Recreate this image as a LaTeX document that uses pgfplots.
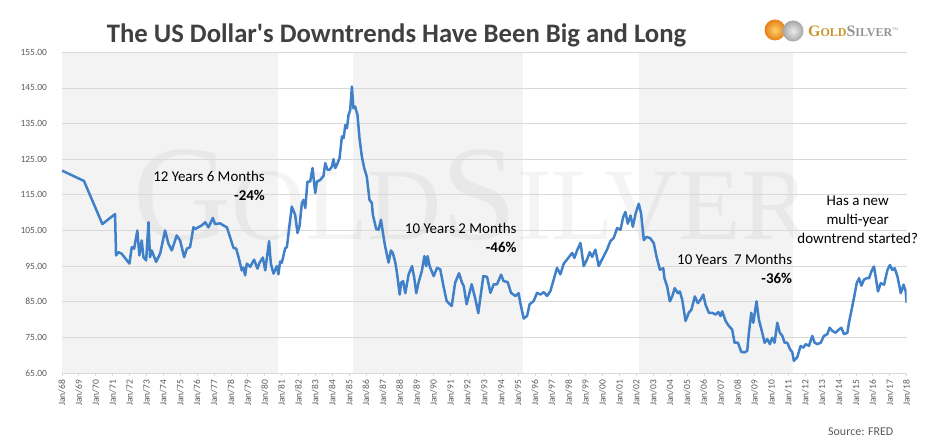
\documentclass[border=0pt]{standalone}
\usepackage{pgfplots}
\pgfplotsset{compat=1.18}
\usepackage{fontspec}
\setmainfont{Carlito}
\newfontfamily\wmfont{Liberation Serif}

\definecolor{usdblue}{HTML}{4080C8}
\definecolor{bandgrey}{HTML}{F3F3F3}
\definecolor{gridgrey}{HTML}{D9D9D9}
\definecolor{labgrey}{HTML}{595959}
\definecolor{titlegrey}{HTML}{404040}
\definecolor{goldtxt}{HTML}{C9962B}
\definecolor{silvtxt}{HTML}{929292}

\begin{document}
\begin{tikzpicture}
\path (0,0) rectangle (934bp,447bp);

% shaded downtrend periods and watermark behind the plot
\fill[bandgrey] (62bp,74bp) rectangle (277.7bp,394.7bp);
\fill[bandgrey] (352.7bp,74bp) rectangle (523.3bp,394.7bp);
\fill[bandgrey] (639bp,74bp) rectangle (793.3bp,394.7bp);
\node[anchor=base west, inner sep=0, text=black, text opacity=0.045] at (133bp,207bp)
  {\wmfont\fontsize{136}{136}\selectfont G\fontsize{103}{103}\selectfont OLD%
   \fontsize{136}{136}\selectfont S\fontsize{103}{103}\selectfont ILVER};

\begin{axis}[
    at={(62bp,74bp)}, anchor=south west,
    scale only axis, width=844.7bp, height=320.7bp,
    xmin=1968, xmax=2018, ymin=65, ymax=155,
    axis lines*=left,
    x axis line style={color=gridgrey, line width=0.8bp},
    y axis line style={draw=none},
    ymajorgrids, grid style={color=gridgrey, line width=0.8bp},
    ytick={65,75,...,155},
    xtick={1968,1969,...,2018},
    xticklabels={Jan/68,Jan/69,Jan/70,Jan/71,Jan/72,Jan/73,Jan/74,Jan/75,Jan/76,Jan/77,
      Jan/78,Jan/79,Jan/80,Jan/81,Jan/82,Jan/83,Jan/84,Jan/85,Jan/86,Jan/87,Jan/88,Jan/89,
      Jan/90,Jan/91,Jan/92,Jan/93,Jan/94,Jan/95,Jan/96,Jan/97,Jan/98,Jan/99,Jan/00,Jan/01,
      Jan/02,Jan/03,Jan/04,Jan/05,Jan/06,Jan/07,Jan/08,Jan/09,Jan/10,Jan/11,Jan/12,Jan/13,
      Jan/14,Jan/15,Jan/16,Jan/17,Jan/18},
    tick align=outside,
    xtick pos=bottom,
    major tick length=3.5bp,
    x tick style={color=gridgrey, line width=0.8bp},
    y tick style={draw=none},
    xticklabel style={rotate=90, anchor=east, font=\fontsize{9.5}{11}\selectfont, text=labgrey},
    yticklabel style={font=\fontsize{9.5}{11}\selectfont, text=labgrey, xshift=-8bp,
      /pgf/number format/fixed, /pgf/number format/fixed zerofill,
      /pgf/number format/precision=2, /pgf/number format/assume math mode=true},
  ]

% US dollar index, monthly
\addplot[color=usdblue, line width=2.5bp, line join=round] coordinates {
(1968.00,121.8) (1969.30,118.9) (1970.39,106.8) (1971.14,109.6) (1971.20,98.0)
(1971.34,98.9) (1971.53,98.5) (1971.99,95.7) (1972.13,100.3) (1972.27,99.9)
(1972.46,105.0) (1972.58,98.0) (1972.72,102.2) (1972.82,97.5) (1972.98,96.6)
(1973.12,107.3) (1973.21,97.5) (1973.31,99.4) (1973.57,96.2) (1973.81,98.5)
(1974.10,105.0) (1974.30,101.3) (1974.50,99.4) (1974.79,103.6) (1974.99,102.2)
(1975.23,97.5) (1975.39,99.9) (1975.58,100.3) (1975.78,105.9) (1975.88,105.4)
(1976.07,105.9) (1976.27,106.4) (1976.47,107.3) (1976.67,105.9) (1976.93,108.5)
(1977.06,106.8) (1977.36,107.0) (1977.56,106.4) (1977.76,105.9) (1977.95,103.1)
(1978.15,100.1) (1978.31,99.9) (1978.45,97.5) (1978.64,93.8) (1978.74,94.6)
(1978.84,92.4) (1978.94,95.7) (1979.14,94.8) (1979.37,96.8) (1979.57,94.3)
(1979.69,95.9) (1979.89,97.4) (1980.03,93.8) (1980.26,102.0) (1980.36,95.7)
(1980.52,92.9) (1980.72,95.0) (1980.81,92.7) (1980.91,96.3) (1981.01,95.9)
(1981.21,100.0) (1981.31,100.3) (1981.60,111.7) (1981.80,109.4) (1981.94,104.3)
(1982.06,106.2) (1982.20,112.7) (1982.30,113.6) (1982.40,111.3) (1982.53,118.7)
(1982.69,118.7) (1982.83,122.5) (1982.99,115.5) (1983.09,118.7) (1983.29,119.2)
(1983.48,120.3) (1983.58,123.9) (1983.72,122.0) (1983.84,122.0) (1983.98,123.0)
(1984.07,125.0) (1984.17,122.5) (1984.27,123.4) (1984.43,125.3) (1984.57,131.4)
(1984.67,130.9) (1984.77,134.6) (1984.87,133.7) (1984.96,137.4) (1985.06,138.8)
(1985.16,145.4) (1985.25,139.3) (1985.35,139.8) (1985.49,137.4) (1985.61,130.9)
(1985.75,125.7) (1985.89,122.5) (1986.04,120.1) (1986.20,113.6) (1986.34,112.7)
(1986.40,109.4) (1986.60,105.4) (1986.74,105.2) (1986.88,108.0) (1987.03,103.3)
(1987.13,100.5) (1987.33,96.0) (1987.47,99.4) (1987.59,98.6) (1987.73,96.0)
(1987.83,93.0) (1987.99,87.0) (1988.07,90.3) (1988.19,90.8) (1988.32,87.4)
(1988.52,92.7) (1988.72,95.0) (1988.85,91.7) (1988.97,87.4) (1989.10,90.3)
(1989.30,93.6) (1989.45,97.8) (1989.56,95.0) (1989.64,97.8) (1989.76,95.0)
(1990.00,92.2) (1990.20,94.5) (1990.39,94.1) (1990.58,89.4) (1990.77,85.2)
(1991.07,83.8) (1991.27,90.3) (1991.50,93.0) (1991.68,90.3) (1991.78,89.4)
(1991.95,84.3) (1992.25,89.9) (1992.47,85.7) (1992.64,81.8) (1992.94,92.2)
(1993.16,92.0) (1993.36,87.5) (1993.56,89.9) (1993.75,89.9) (1993.99,92.6)
(1994.14,90.8) (1994.38,90.5) (1994.58,87.5) (1994.84,86.6) (1995.03,87.4)
(1995.13,84.6) (1995.33,80.3) (1995.53,81.0) (1995.68,84.3) (1995.92,85.2)
(1996.12,87.5) (1996.32,87.0) (1996.52,87.7) (1996.71,86.6) (1996.91,88.0)
(1997.11,91.3) (1997.30,94.5) (1997.50,92.7) (1997.70,95.7) (1997.90,96.9)
(1998.20,98.7) (1998.33,97.3) (1998.49,99.4) (1998.69,101.5) (1998.88,95.0)
(1999.08,96.9) (1999.24,98.9) (1999.38,97.6) (1999.57,99.6) (1999.77,95.0)
(1999.97,96.9) (2000.27,99.7) (2000.46,102.0) (2000.66,102.9) (2000.86,105.7)
(2001.06,105.2) (2001.22,108.8) (2001.35,110.2) (2001.49,106.9) (2001.65,109.2)
(2001.79,106.0) (2001.95,109.7) (2002.14,112.5) (2002.28,109.7) (2002.44,102.3)
(2002.60,103.2) (2002.83,102.8) (2003.03,101.4) (2003.19,97.7) (2003.39,94.0)
(2003.59,94.4) (2003.66,91.6) (2003.82,89.3) (2003.98,85.1) (2004.12,86.5)
(2004.27,88.8) (2004.45,87.4) (2004.57,87.9) (2004.71,85.6) (2004.91,79.6)
(2005.10,81.9) (2005.26,82.8) (2005.46,86.5) (2005.64,84.6) (2005.80,85.6)
(2005.96,87.0) (2006.09,84.2) (2006.29,81.9) (2006.49,81.9) (2006.69,81.4)
(2006.85,82.1) (2006.98,81.0) (2007.08,82.3) (2007.28,79.6) (2007.47,78.2)
(2007.67,77.2) (2007.81,73.5) (2008.01,73.5) (2008.21,70.9) (2008.40,70.8)
(2008.56,71.2) (2008.66,76.3) (2008.80,81.9) (2008.92,79.1) (2009.11,85.1)
(2009.25,80.0) (2009.45,76.3) (2009.59,73.5) (2009.75,74.5) (2009.90,73.1)
(2010.04,74.9) (2010.18,73.5) (2010.34,79.1) (2010.49,76.3) (2010.64,75.4)
(2010.77,73.5) (2010.93,73.5) (2011.09,71.7) (2011.23,70.8) (2011.32,68.4)
(2011.52,69.4) (2011.72,72.6) (2011.88,72.1) (2012.02,73.1) (2012.21,72.6)
(2012.41,75.4) (2012.55,73.5) (2012.71,73.1) (2012.91,73.5) (2013.10,75.4)
(2013.30,75.9) (2013.44,77.7) (2013.60,76.8) (2013.79,76.3) (2013.99,77.2)
(2014.13,77.7) (2014.29,75.9) (2014.49,76.3) (2014.58,79.1) (2014.72,82.3)
(2014.88,86.1) (2015.04,90.2) (2015.18,91.6) (2015.32,89.5) (2015.47,91.2)
(2015.63,91.6) (2015.77,91.6) (2015.91,93.5) (2016.06,94.9) (2016.16,92.1)
(2016.30,87.9) (2016.46,90.2) (2016.66,89.8) (2016.86,93.9) (2017.01,95.3)
(2017.15,93.9) (2017.29,94.4) (2017.45,92.1) (2017.65,87.4) (2017.81,89.8)
(2017.94,87.9) (2018.00,84.7)
};
\end{axis}

% title and logo
\node[anchor=base, inner sep=0, text=titlegrey, font=\fontsize{26.8}{30}\selectfont\bfseries]
  at (396.5bp,404bp) {The US Dollar\textquotesingle s Downtrends Have Been Big and Long};
\shade[inner color=yellow!40!orange!60, outer color=orange!60!brown] (775bp,417bp) circle (10.5bp);
\shade[inner color=gray!15, outer color=gray!70] (793bp,416bp) circle (10.5bp);
\node[anchor=base west, inner sep=0] at (808bp,410.3bp)
  {\wmfont\bfseries\color{goldtxt}\fontsize{16}{16}\selectfont G\fontsize{12}{12}\selectfont OLD%
   \color{silvtxt}\fontsize{16}{16}\selectfont S\fontsize{12}{12}\selectfont ILVER%
   \mdseries\fontsize{4}{4}\selectfont\raisebox{6bp}{TM}};

% annotations
\begin{scope}[every node/.style={inner sep=0, font=\fontsize{15}{18}\selectfont, text=black}]
  \node[anchor=base east] at (265bp,265.3bp) {12 Years 6 Months};
  \node[anchor=base east] at (265bp,246.3bp) {\bfseries -24\%};
  \node[anchor=base east] at (516.7bp,213.7bp) {10 Years 2 Months};
  \node[anchor=base east] at (516.7bp,194.7bp) {\bfseries -46\%};
  \node[anchor=base east] at (792.3bp,182bp) {10 Years\ \ 7 Months};
  \node[anchor=base east] at (792.3bp,163.7bp) {\bfseries -36\%};
  \node[anchor=base] at (857.7bp,241bp) {Has a new};
  \node[anchor=base] at (857.7bp,222bp) {multi-year};
  \node[anchor=base] at (857.7bp,203.7bp) {downtrend started?};
\end{scope}
\node[anchor=base west, inner sep=0, text=labgrey, font=\fontsize{12}{14}\selectfont]
  at (828bp,12bp) {Source: FRED};
\end{tikzpicture}
\end{document}
